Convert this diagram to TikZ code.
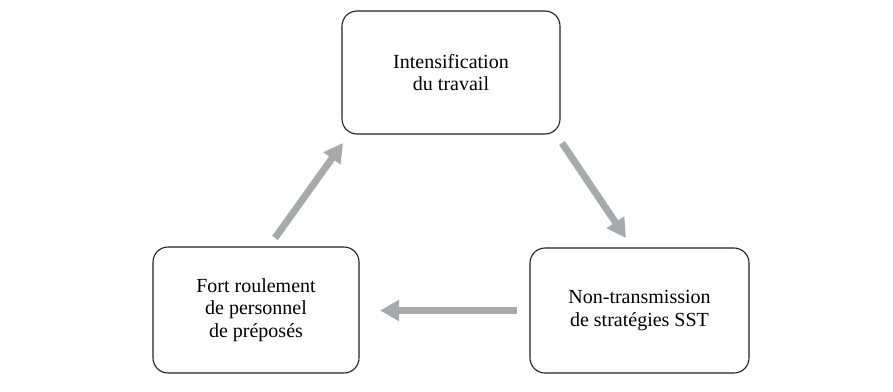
\documentclass[tikz,border=0pt]{standalone}
\usepackage{fontspec}
\setmainfont{Liberation Serif}
\usetikzlibrary{arrows.meta}
\definecolor{arrowgray}{RGB}{167,169,172}
\definecolor{boxline}{RGB}{35,31,32}
\begin{document}
\begin{tikzpicture}[x=1pt,y=-1pt,
  box/.style={draw=boxline, line width=1.1pt, rounded corners=15pt, align=center,
    font=\fontsize{20}{22.5}\selectfont, inner sep=0pt},
  flow/.style={draw=arrowgray, line width=7pt,
    -{Triangle[length=19pt,width=20pt]}}]
\useasboundingbox (0,0) rectangle (893,391);
\node[box, minimum width=218pt, minimum height=123pt] (top) at (451,72.5) {Intensification\\du travail};
\node[box, minimum width=206pt, minimum height=126pt] (left) at (256,310) {Fort roulement\\de personnel\\de préposés};
\node[box, minimum width=219pt, minimum height=125pt] (right) at (639.5,310.5) {Non-transmission\\de stratégies SST};
\coordinate (a1s) at (275,238);
\coordinate (a1e) at (343,143);
\coordinate (a2s) at (562,143);
\coordinate (a2e) at (626,238);
\coordinate (a3s) at (517,310.5);
\coordinate (a3e) at (380,310.5);
\draw[flow] (a1s) -- (a1e);
\draw[flow] (a2s) -- (a2e);
\draw[flow] (a3s) -- (a3e);
\end{tikzpicture}
\end{document}
